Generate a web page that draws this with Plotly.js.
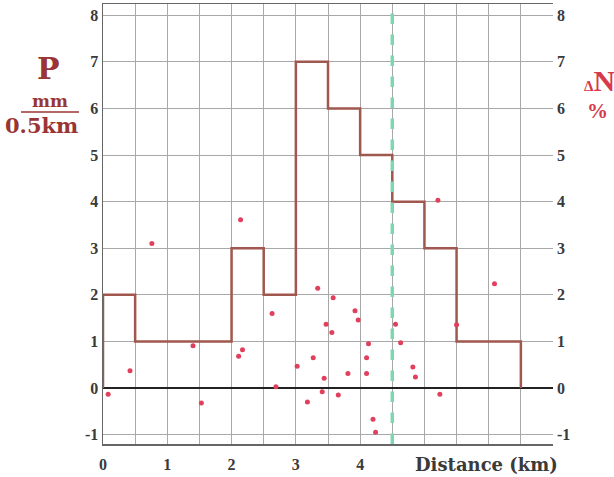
<!DOCTYPE html>
<html><head><meta charset="utf-8">
<script src="https://cdn.plot.ly/plotly-3.0.1.min.js"></script>
<style>html,body{margin:0;padding:0;background:#fff}#c{width:614px;height:477px}</style>
</head><body><div id="c"></div>
<script>
// Precipitation per 0.5 km bin (mm / 0.5km)
const binEdges = [0, 0.5, 2, 2.5, 3, 3.5, 4, 4.5, 5, 5.5, 6.5];
const binValues = [2, 1, 3, 2, 7, 6, 5, 4, 3, 1];
// Delta N (%) scatter
const dnX = [0.08,0.42,0.76,1.40,1.53,2.14,2.17,2.11,2.63,2.69,3.02,3.18,3.27,3.34,3.44,3.41,3.47,3.56,3.58,3.66,3.81,3.92,3.97,4.13,4.10,4.10,4.20,4.24,4.55,4.63,4.82,4.86,5.21,5.24,5.50,6.09];
const dnY = [-0.13,0.37,3.10,0.91,-0.32,3.61,0.82,0.68,1.60,0.03,0.47,-0.30,0.65,2.14,0.21,-0.08,1.37,1.19,1.94,-0.15,0.31,1.66,1.46,0.95,0.65,0.31,-0.67,-0.95,1.37,0.97,0.45,0.24,4.03,-0.13,1.36,2.24];
const divideX = 4.5;
const xTickLabels = ['0','1','2','3','4'];
const yTicks = [-1,0,1,2,3,4,5,6,7,8];
const yTickText = ['-1','0','1','2','3','4','5','6','7','8'];

const stepX = [binEdges[0]], stepY = [0];
for (let i = 0; i < binValues.length; i++) { stepX.push(binEdges[i]); stepY.push(binValues[i]); }
stepX.push(binEdges[binEdges.length-1]); stepY.push(0);

const xGrid = [], xText = [];
for (let v = 0; v <= 7.0001; v += 0.5) {
  xGrid.push(v);
  const lbl = xTickLabels.indexOf(String(v));
  xText.push(lbl >= 0 ? xTickLabels[lbl] : '');
}
const yr = [-1.2, 8.24];
const tickFont = {family:'Liberation Serif', size:16, color:'#3a3a3a', weight:'bold'};
const px = v => (v - 103) / 450, py = v => (444 - v) / 440;
const ann = (x, y, text, font, extra) => Object.assign({xref:'paper', yref:'paper', x:px(x), y:py(y), text, showarrow:false, xanchor:'center', yanchor:'middle', font}, extra || {});

const traces = [
  {x: stepX, y: stepY, mode:'lines', line:{shape:'hv', color:'#a0574e', width:2.5}, hoverinfo:'skip'},
  {x: [divideX, divideX], y: yr, mode:'lines', line:{color:'#7fd6b2', width:3.5, dash:'dash'}},
  {x: dnX, y: dnY, mode:'markers', marker:{color:'#e0405c', size:5}},
  {x: [0], y: [0], yaxis:'y2', mode:'markers', marker:{opacity:0}, hoverinfo:'skip'}
];
const red = '#9a3535';
const layout = {
  width:614, height:477, showlegend:false,
  margin:{l:103, r:61, t:4, b:33},
  paper_bgcolor:'#fff', plot_bgcolor:'#fff',
  xaxis:{range:[0,7], tickvals:xGrid, ticktext:xText, showgrid:true, gridcolor:'#a8a8a8', gridwidth:1,
    zeroline:false, showline:true, linecolor:'#666', linewidth:1.5, mirror:true, ticks:'',
    tickfont:tickFont, ticklabelstandoff:5},
  yaxis:{range:yr, tickvals:yTicks, ticktext:yTickText, showgrid:true, gridcolor:'#a8a8a8', gridwidth:1,
    zeroline:true, zerolinecolor:'#222', zerolinewidth:1.5, showline:true, linecolor:'#666', linewidth:1.5,
    ticks:'', tickfont:tickFont, ticklabelstandoff:0},
  yaxis2:{range:yr, tickvals:yTicks, ticktext:yTickText, overlaying:'y', side:'right', showgrid:false, zeroline:false,
    showline:false, ticks:'', tickfont:tickFont, ticklabelstandoff:3},
  shapes:[
    {type:'line', xref:'paper', yref:'paper', x0:px(21), x1:px(79), y0:py(112), y1:py(112),
     line:{color:red, width:1.5}}
  ],
  annotations:[
    ann(48, 69, 'P', {family:'DejaVu Serif', size:30, color:red, weight:'bold'}),
    ann(50, 101, 'mm', {family:'DejaVu Serif', size:17, color:red, weight:'bold'}),
    ann(41, 126, '0.5km', {family:'DejaVu Serif', size:21, color:red, weight:'bold'}),
    ann(582, 80, '<span style="font-size:15px">Δ</span>N', {family:'Liberation Serif', size:30, color:'#d8384c', weight:'bold'}, {xanchor:'left'}),
    ann(597, 111, '%', {family:'Liberation Serif', size:21, color:'#d8384c', weight:'bold'}),
    ann(486, 464, 'Distance (km)', {family:'DejaVu Serif', size:18, color:'#3a3a3a', weight:'bold'})
  ]
};
Plotly.newPlot('c', traces, layout, {staticPlot:true});
</script></body></html>
